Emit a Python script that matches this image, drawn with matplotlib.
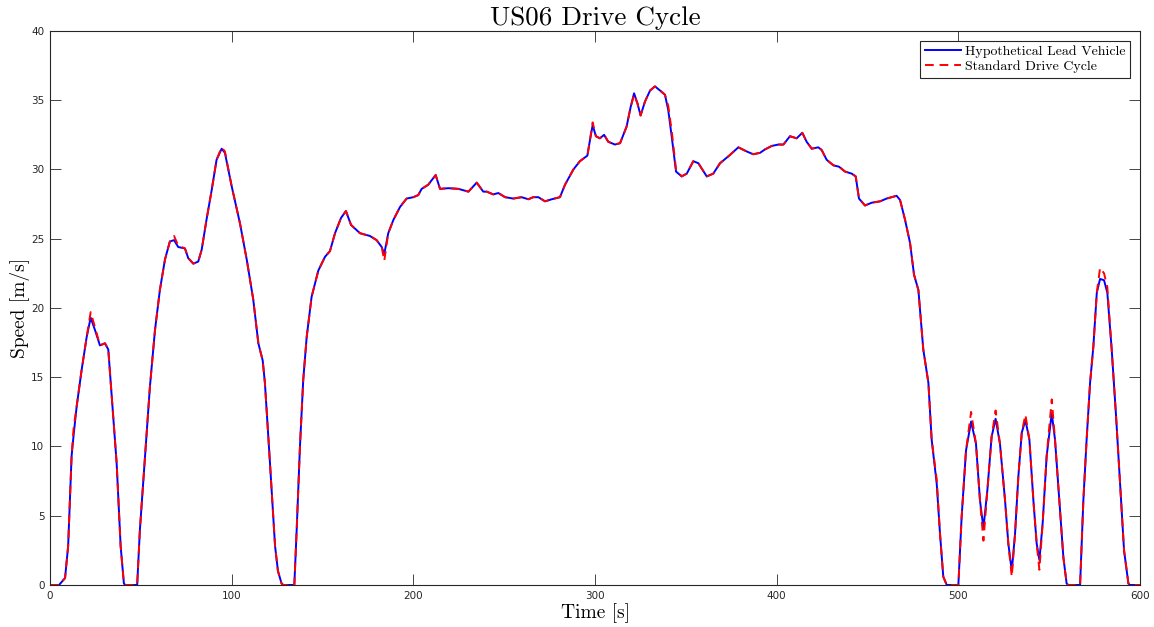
import matplotlib
matplotlib.use('Agg')
import matplotlib.pyplot as plt

# US06 drive cycle
time_s = [0, 5, 8.3, 10, 11.9, 13, 14.7, 17.4, 20.2, 22.4, 24.8, 27.5, 30.3, 32.1, 34, 36.7, 38.9, 40.7, 41.5,
          48, 49.5, 52.3, 55, 57.8, 60.5, 63.3, 66, 68.3, 70.6, 74.3, 76.1, 78.9, 81.6, 83.5, 86.2, 89, 91.7,
          94.5, 96.3, 100, 104.6, 108.3, 111.9, 114.7, 117.1, 118.3, 121.1, 123.9, 125.5, 127.5, 128.5,
          134.5, 135.8, 137.6, 139.4, 141.3, 144, 147.7, 151.4, 154.1, 156.9, 160.2, 162.9, 165.7, 170.6,
          176.1, 179.8, 182.6, 184, 186.2, 189, 192.7, 196.3, 200, 202.7, 204.6, 208.2, 212.3, 214.7, 219.3,
          224.8, 230.3, 234.9, 238.5, 240.4, 244, 246.8, 250.5, 255, 259.6, 263.3, 266, 268.8, 272.5, 276.2,
          280.7, 283.5, 288.1, 291.7, 295.8, 297.2, 298.7, 300.5, 302.7, 305, 307.3, 311, 313.8, 317.4, 319.6,
          321.5, 323.3, 325.1, 327.5, 330.3, 333, 335.8, 338.5, 340.3, 342.2, 344.6, 347.7, 350.5, 354.1,
          356.9, 361.5, 365.1, 368.8, 374.3, 378.9, 383.5, 387.1, 390.8, 393.6, 397.3, 400.9, 403.7, 407.3,
          411, 414.1, 416.5, 419.3, 422.9, 424.8, 427.5, 431.2, 434.3, 437.6, 441.3, 443.5, 445.3, 448.6,
          452.3, 456.9, 460.5, 463.3, 466, 467.9, 470.6, 473.4, 475.6, 478, 480.7, 483.5, 485.3, 488.1, 489.9,
          491.7, 493.6, 500, 501.8, 504.2, 507, 509.7, 511.9, 513.8, 516, 518.3, 520.5, 522.9, 525.7, 527.5,
          529.4, 531.2, 533, 534.9, 536.9, 539.1, 541.3, 543.1, 544.6, 546.4, 548.6, 551.4, 553.2, 555.6,
          557.8, 559.6, 560.5, 567, 568.8, 570.6, 572.5, 574.3, 576.2, 578, 580.2, 582, 584.4, 586.8, 589,
          591.2, 593.6, 594.5, 600]

lead_speed = [0, 0, 0.5, 2.8, 9.3, 10.8, 12.9, 15.5, 17.9, 19.3, 18.4, 17.3, 17.45, 17.0, 13.6, 8.8, 2.8, 0.1, 0,
              0, 4, 9.3, 14.3, 18.4, 21.3, 23.5, 24.8, 24.9, 24.4, 24.3, 23.6, 23.2, 23.35, 24.2, 26.4, 28.5, 30.7,
              31.5, 31.2, 28.8, 26.1, 23.5, 20.6, 17.45, 16.2, 14.6, 8.8, 2.8, 1.0, 0.1, 0,
              0, 4, 10, 14.8, 17.9, 20.8, 22.7, 23.7, 24.1, 25.4, 26.5, 27.0, 26.0, 25.4,
              25.2, 24.9, 24.4, 23.9, 25.4, 26.35, 27.3, 27.9, 28.0, 28.15, 28.6, 28.9, 29.6, 28.6, 28.65,
              28.6, 28.4, 29.05, 28.4, 28.4, 28.2, 28.3, 28.0, 27.9, 28.0, 27.85, 28.0, 28.0, 27.7, 27.85,
              28.0, 28.9, 30.0, 30.6, 31.0, 32.1, 33.2, 32.4, 32.25, 32.5, 32.0, 31.8, 31.9, 33.1, 34.5,
              35.5, 34.8, 33.9, 34.9, 35.7, 36.0, 35.7, 35.4, 34.3, 32.4, 29.85, 29.5, 29.7, 30.6,
              30.45, 29.5, 29.7, 30.45, 31.05, 31.6, 31.3, 31.1, 31.2, 31.45, 31.7, 31.8, 31.8, 32.4,
              32.25, 32.65, 32.0, 31.5, 31.6, 31.4, 30.7, 30.3, 30.2, 29.85, 29.7, 29.5, 27.9, 27.4,
              27.6, 27.7, 27.9, 28.0, 28.1, 27.8, 26.4, 24.7, 22.4, 21.3, 17.0, 14.6, 10.5, 7.3, 3.7,
              0.6, 0, 0, 4.9, 9.7, 11.8, 10.2, 6.1, 4.1, 6.9, 10.7, 12.0, 10.2, 6.1, 3.0,
              1.0, 3.7, 7.8, 11.0, 11.9, 10.5, 6.1, 3.0, 1.8, 4.45, 9.3, 12.4, 10.5, 6.1,
              2.0, 0.1, 0, 0, 6.1, 10.5, 14.6, 17.2, 21.1, 22.1, 22.0, 21.1, 17.0, 12.2, 7.3,
              2.5, 0.1, 0, 0]

standard_speed = [0, 0, 0.5, 2.8, 9.3, 11.3, 12.9, 15.5, 17.9, 19.7, 18.6, 17.3, 17.45, 17.0, 13.6, 8.8, 2.8, 0.1, 0,
                  0, 4, 9.3, 14.3, 18.4, 21.3, 23.5, 24.8, 25.2, 24.5, 24.3, 23.6, 23.2, 23.35, 24.2, 26.4, 28.5, 30.7,
                  31.6, 31.3, 28.8, 26.1, 23.5, 20.6, 17.45, 16.2, 14.6, 8.8, 2.8, 1.0, 0.1, 0,
                  0, 4, 10, 14.8, 17.9, 20.8, 22.7, 23.7, 24.1, 25.4, 26.5, 27.0, 26.0, 25.4,
                  25.2, 24.9, 24.4, 23.4, 25.4, 26.35, 27.3, 27.9, 28.0, 28.15, 28.6, 28.9, 29.6, 28.6, 28.65,
                  28.6, 28.4, 29.05, 28.4, 28.4, 28.2, 28.3, 28.0, 27.9, 28.0, 27.85, 28.0, 28.0, 27.7, 27.85,
                  28.0, 28.9, 30.0, 30.6, 31.0, 32.1, 33.4, 32.4, 32.25, 32.5, 32.0, 31.8, 31.9, 33.1, 34.5,
                  35.4, 34.8, 33.9, 34.9, 35.7, 36.0, 35.7, 35.4, 34.6, 32.8, 30.0, 29.5, 29.7, 30.6,
                  30.45, 29.5, 29.7, 30.45, 31.05, 31.6, 31.3, 31.1, 31.2, 31.45, 31.7, 31.8, 31.8, 32.4,
                  32.25, 32.65, 32.0, 31.5, 31.6, 31.4, 30.7, 30.3, 30.2, 29.85, 29.7, 29.5, 27.9, 27.4,
                  27.6, 27.7, 27.9, 28.0, 28.1, 27.8, 26.4, 24.7, 22.4, 21.3, 17.0, 14.6, 10.5, 7.6, 3.7,
                  0.6, 0, 0, 4.9, 9.7, 12.5, 10.2, 6.1, 3.2, 6.9, 10.7, 12.6, 10.2, 6.1, 3.0,
                  0.6, 3.7, 7.8, 11.0, 12.3, 10.5, 6.1, 3.0, 1.1, 4.45, 9.3, 13.4, 10.5, 6.1,
                  2.0, 0.1, 0, 0, 6.1, 10.5, 14.6, 17.2, 21.1, 22.9, 22.5, 21.5, 17.0, 12.2, 7.3,
                  2.5, 0.1, 0, 0]

x_ticks = [0, 100, 200, 300, 400, 500, 600]
y_ticks = [0, 5, 10, 15, 20, 25, 30, 35, 40]

axis_col = '#262626'
serif = 'cmr10'

fig = plt.figure(figsize=(11.54, 6.27), dpi=100)
ax = fig.add_axes([0.0433, 0.067, 0.9446, 0.8836])

ax.plot(time_s, lead_speed, color='blue', lw=1.4, label='Hypothetical Lead Vehicle')
ax.plot(time_s, standard_speed, color='red', lw=1.4, ls=(0, (4.5, 3)), label='Standard Drive Cycle')

ax.set_xlim(0, 600)
ax.set_ylim(0, 40)
ax.set_xticks(x_ticks)
ax.set_yticks(y_ticks)
ax.tick_params(direction='in', length=8, width=0.6, top=True, right=True,
               labelsize=7.5, colors=axis_col, pad=4)
for sp in ax.spines.values():
    sp.set_color(axis_col)
    sp.set_linewidth(0.8)

ax.set_title('US06 Drive Cycle', fontfamily=serif, fontsize=19.5, pad=4)
ax.set_xlabel('Time [s]', fontfamily=serif, fontsize=14, labelpad=2)
ax.set_ylabel('Speed [m/s]', fontfamily=serif, fontsize=14, labelpad=1)

leg = ax.legend(loc='upper right', prop={'family': serif, 'size': 10}, fancybox=False,
                framealpha=1, edgecolor=axis_col, handlelength=2.6, handletextpad=0.3,
                borderpad=0.35, labelspacing=0.15, borderaxespad=0.7)
leg.get_frame().set_linewidth(0.8)

fig.savefig('out.png', dpi=100)
plt.close(fig)
